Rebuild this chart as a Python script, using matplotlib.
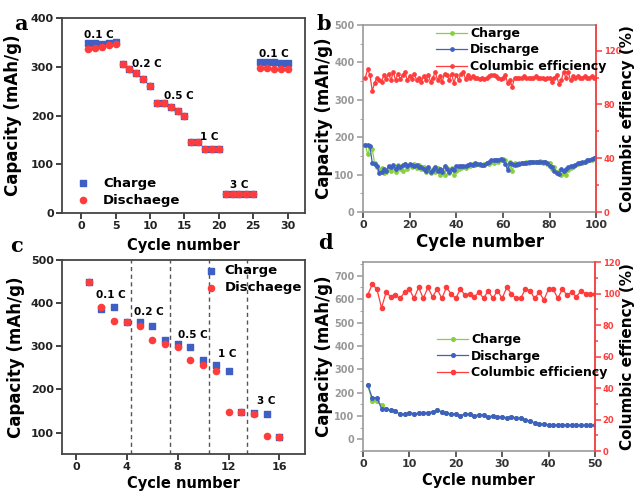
import numpy as np
import matplotlib.pyplot as plt
from matplotlib.ticker import MultipleLocator

plt.rcParams['font.family'] = 'DejaVu Sans'
plt.rcParams['font.weight'] = 'bold'
plt.rcParams['axes.labelweight'] = 'bold'

BLUE = '#3f5fc4'
RED = '#ff3c3c'
GREEN = '#86d13a'

# ---- panel a: rate test ----
cyc_a = list(range(1, 31))
charge_a = [350, 350, 348, 350, 352, 305, 295, 287, 276, 260,
            225, 225, 218, 210, 200, 145, 145, 132, 131, 131,
            40, 40, 40, 40, 40, 310, 310, 310, 309, 308]
dis_a = [337, 338, 340, 344, 347, 305, 295, 287, 276, 260,
         225, 225, 218, 210, 200, 145, 145, 132, 131, 131,
         40, 40, 40, 40, 40, 298, 297, 296, 296, 295]
rates_a = ['0.1 C', '0.2 C', '0.5 C', '1 C', '3 C', '0.1 C']
rate_pos_a = [(2.5, 366), (9.5, 307), (14.2, 240), (18.6, 157), (23.0, 57), (28.0, 326)]

# ---- panel b: long cycling ----
cyc_b = list(range(1, 101))
dis_b = [180, 178, 176, 130, 129, 124, 105, 107, 115, 111,
         124, 120, 126, 115, 122, 120, 127, 129, 122, 129,
         127, 124, 126, 120, 120, 115, 111, 120, 107, 113,
         120, 111, 115, 107, 122, 115, 107, 115, 113, 122,
         124, 122, 124, 122, 127, 129, 127, 131, 129, 129,
         126, 127, 131, 133, 138, 140, 140, 138, 142, 140,
         129, 113, 131, 129, 127, 129, 129, 131, 132, 131,
         133, 133, 133, 134, 135, 133, 135, 133, 131, 124,
         120, 111, 104, 102, 115, 111, 115, 120, 122, 124,
         127, 131, 132, 133, 135, 138, 140, 142, 145, 147]
charge_b = [180, 155, 170, 168, 130, 120, 112, 118, 105, 108,
            115, 110, 120, 108, 125, 115, 110, 128, 115, 125,
            120, 128, 118, 125, 115, 120, 108, 118, 105, 115,
            108, 118, 100, 112, 100, 118, 105, 118, 100, 110,
            115, 118, 120, 118, 125, 122, 128, 125, 128, 126,
            125, 128, 130, 128, 135, 130, 140, 135, 140, 142,
            140, 120, 135, 110, 130, 127, 130, 132, 130, 133,
            132, 135, 133, 135, 134, 136, 130, 135, 128, 130,
            115, 120, 108, 110, 100, 105, 100, 112, 118, 120,
            125, 128, 130, 132, 134, 137, 138, 140, 142, 145]
ce_b = [100, 106, 102, 90, 96, 100, 98, 97, 102, 99,
        103, 98, 104, 98, 103, 99, 102, 104, 98, 101,
        99, 103, 98, 100, 97, 101, 98, 102, 97, 100,
        104, 98, 101, 97, 103, 102, 98, 103, 96, 102,
        98, 103, 104, 99, 102, 100, 101, 100, 100, 99,
        100, 99, 100, 101, 102, 102, 101, 100, 99, 100,
        102, 96, 98, 93, 100, 100, 100, 100, 101, 100,
        100, 100, 100, 101, 100, 100, 100, 99, 100, 100,
        97, 100, 102, 95, 98, 104, 100, 104, 98, 101,
        100, 101, 100, 100, 101, 100, 100, 101, 100, 100]

# ---- panel c: rate test 2 ----
cyc_c = list(range(1, 17))
charge_c = [449, 387, 390, 357, 356, 347, 315, 306, 297, 268,
            257, 243, 148, 146, 142, 89]
dis_c = [449, 391, 358, 356, 346, 315, 305, 297, 268, 257,
         243, 148, 148, 142, 91, 89]
rates_c = ['0.1 C', '0.2 C', '0.5 C', '1 C', '3 C']
rate_pos_c = [(2.75, 418), (5.7, 378), (9.2, 326), (11.9, 282), (15.0, 173)]
dash_c = [4.35, 7.4, 10.5, 13.45]

# ---- panel d: cycling ----
cyc_d = list(range(1, 51))
dis_d = [235, 178, 178, 132, 130, 125, 120, 108, 107, 115,
         110, 112, 115, 115, 118, 125, 118, 112, 110, 110,
         102, 108, 108, 102, 105, 105, 95, 102, 98, 98,
         92, 98, 92, 92, 82, 80, 70, 65, 65, 63,
         62, 62, 62, 62, 61, 61, 60, 60, 60, 60]
charge_d = [235, 165, 165, 148, 130, 125, 120, 108, 107, 115,
            110, 112, 115, 115, 118, 125, 118, 112, 110, 110,
            102, 108, 108, 102, 105, 105, 95, 102, 98, 98,
            92, 98, 92, 92, 82, 80, 70, 65, 65, 63,
            62, 62, 62, 62, 61, 61, 60, 60, 60, 60]
ce_d = [99, 106, 103, 91, 101, 98, 99, 97, 101, 103,
        97, 104, 97, 104, 98, 103, 97, 104, 100, 97,
        103, 99, 100, 98, 101, 97, 102, 97, 102, 97,
        104, 100, 97, 97, 103, 102, 97, 101, 96, 103,
        103, 97, 103, 99, 101, 98, 102, 100, 100, 100]

fig = plt.figure(figsize=(6.39, 4.92), dpi=100)

ax_a = fig.add_axes([0.097, 0.567, 0.380, 0.396])
ax_b = fig.add_axes([0.568, 0.569, 0.365, 0.380])
ax_c = fig.add_axes([0.097, 0.077, 0.380, 0.395])
ax_d = fig.add_axes([0.568, 0.083, 0.363, 0.384])

TICK = 8
LAB = 12
XLAB = 10.5


def style_box(ax, color='#444444'):
    for s in ax.spines.values():
        s.set_color(color)
        s.set_linewidth(1.3)
    ax.tick_params(direction='out', length=4, width=1.2, labelsize=TICK, colors='#222222', pad=2)


def style_twin(ax, ax2, rtick):
    for s in ax.spines.values():
        s.set_color('#999999')
        s.set_linewidth(1.2)
    ax.tick_params(direction='out', length=4, width=1.1, labelsize=7, colors='#999999', pad=2)
    ax.tick_params(axis='x', colors='#333333', labelsize=TICK)
    ax.tick_params(axis='y', which='minor', length=2.5, colors='#999999')
    ax2.spines['right'].set_color(RED)
    ax2.spines['right'].set_linewidth(1.2)
    for k in ['left', 'top', 'bottom']:
        ax2.spines[k].set_visible(False)
    ax2.tick_params(axis='y', which='both', colors=RED, labelsize=rtick, width=1.1, pad=1.5)
    ax2.tick_params(axis='y', which='major', length=4)
    ax2.tick_params(axis='y', which='minor', length=2.5)


def label_box(ax, xl, yl, xs, ys):
    ax.set_xlabel('Cycle number', fontsize=xs)
    ax.set_ylabel('Capacity (mAh/g)', fontsize=LAB)
    ax.xaxis.set_label_coords(0.5, xl)
    ax.yaxis.set_label_coords(yl, 0.5)


# panel a
ax_a.scatter(cyc_a, charge_a, marker='s', s=16, color=BLUE, label='Charge', zorder=3)
ax_a.scatter(cyc_a, dis_a, marker='o', s=20, color=RED, label='Dischaege', zorder=4)
for t, (x, y) in zip(rates_a, rate_pos_a):
    ax_a.text(x, y, t, ha='center', va='center', fontsize=7.5, fontweight='bold')
ax_a.set_xlim(-2.8, 32.5)
ax_a.set_ylim(0, 400)
ax_a.set_xticks([0, 5, 10, 15, 20, 25, 30])
ax_a.set_yticks([0, 100, 200, 300, 400])
style_box(ax_a)
label_box(ax_a, -0.128, -0.165, XLAB, LAB)
ax_a.legend(loc='lower left', bbox_to_anchor=(0.06, 0.033), frameon=False,
            fontsize=9.5, handlelength=1.0, handletextpad=1.0, borderpad=0,
            borderaxespad=0, labelspacing=0.3)

# panel b
ax_b.plot(cyc_b, charge_b, '-o', color=GREEN, ms=2.4, lw=0.9, label='Charge', zorder=3)
ax_b.plot(cyc_b, dis_b, '-o', color=BLUE, ms=2.4, lw=0.9, label='Discharge', zorder=3)
ax_b2 = ax_b.twinx()
ax_b2.plot(cyc_b, ce_b, '-o', color=RED, ms=2.4, lw=0.9, label='Columbic efficiency')
ax_b.set_xlim(0, 100)
ax_b.set_ylim(0, 500)
ax_b2.set_ylim(0, 139)
ax_b.set_xticks([0, 20, 40, 60, 80, 100])
ax_b.set_yticks([0, 100, 200, 300, 400, 500])
ax_b2.set_yticks([0, 40, 80, 120])
ax_b.yaxis.set_minor_locator(MultipleLocator(50))
ax_b2.yaxis.set_minor_locator(MultipleLocator(20))
style_twin(ax_b, ax_b2, 6)
label_box(ax_b, -0.112, -0.128, 12, LAB)
ax_b2.set_ylabel('Columbic effiency (%)', fontsize=11)
ax_b2.yaxis.set_label_coords(1.103, 0.5)
h1, l1 = ax_b.get_legend_handles_labels()
h2, l2 = ax_b2.get_legend_handles_labels()
ax_b2.legend(h1 + h2, l1 + l2, loc='upper left', bbox_to_anchor=(0.313, 0.99),
             frameon=False, fontsize=9, handlelength=2.5, labelspacing=0.28,
             handletextpad=0.25, borderpad=0, borderaxespad=0)

# panel c
ax_c.scatter(cyc_c, charge_c, marker='s', s=16, color=BLUE, label='Charge', zorder=3)
ax_c.scatter(cyc_c, dis_c, marker='o', s=20, color=RED, label='Dischaege', zorder=4)
for x in dash_c:
    ax_c.axvline(x, color='#555555', ls='--', lw=1.0, dashes=(3, 2.5))
for t, (x, y) in zip(rates_c, rate_pos_c):
    ax_c.text(x, y, t, ha='center', va='center', fontsize=7.5, fontweight='bold')
ax_c.set_xlim(-1.1, 18)
ax_c.set_ylim(50, 500)
ax_c.set_xticks([0, 4, 8, 12, 16])
ax_c.set_yticks([100, 200, 300, 400, 500])
style_box(ax_c)
label_box(ax_c, -0.113, -0.152, XLAB, LAB)
ax_c.legend(loc='upper left', bbox_to_anchor=(0.587, 0.977), frameon=False,
            fontsize=9.5, handlelength=1.0, handletextpad=0.5, borderpad=0,
            borderaxespad=0, labelspacing=0.3)

# panel d
ax_d.plot(cyc_d, charge_d, '-o', color=GREEN, ms=2.6, lw=0.9, label='Charge', zorder=3)
ax_d.plot(cyc_d, dis_d, '-o', color=BLUE, ms=2.6, lw=0.9, label='Discharge', zorder=3)
ax_d2 = ax_d.twinx()
ax_d2.plot(cyc_d, ce_d, '-o', color=RED, ms=3.0, lw=0.9, label='Columbic efficiency')
ax_d.set_xlim(0, 50)
ax_d.set_ylim(-50, 758)
ax_d2.set_ylim(0, 120)
ax_d.set_xticks([0, 10, 20, 30, 40, 50])
ax_d.set_yticks([0, 100, 200, 300, 400, 500, 600, 700])
ax_d2.set_yticks([0, 20, 40, 60, 80, 100, 120])
ax_d.yaxis.set_minor_locator(MultipleLocator(50))
ax_d2.yaxis.set_minor_locator(MultipleLocator(10))
style_twin(ax_d, ax_d2, 6)
label_box(ax_d, -0.116, -0.128, XLAB, LAB)
ax_d2.set_ylabel('Columbic effiency (%)', fontsize=11)
ax_d2.yaxis.set_label_coords(1.108, 0.5)
h1, l1 = ax_d.get_legend_handles_labels()
h2, l2 = ax_d2.get_legend_handles_labels()
ax_d2.legend(h1 + h2, l1 + l2, loc='upper left', bbox_to_anchor=(0.319, 0.626),
             frameon=False, fontsize=9, handlelength=2.5, labelspacing=0.3,
             handletextpad=0.25, borderpad=0, borderaxespad=0)

# panel letters
for x, y, s in [(0.033, 0.951, 'a'), (0.507, 0.951, 'b'), (0.026, 0.5, 'c'), (0.51, 0.506, 'd')]:
    fig.text(x, y, s, fontsize=15, fontweight='bold', family='DejaVu Serif',
             ha='center', va='center')

fig.savefig('out.png', dpi=100, facecolor='white')
